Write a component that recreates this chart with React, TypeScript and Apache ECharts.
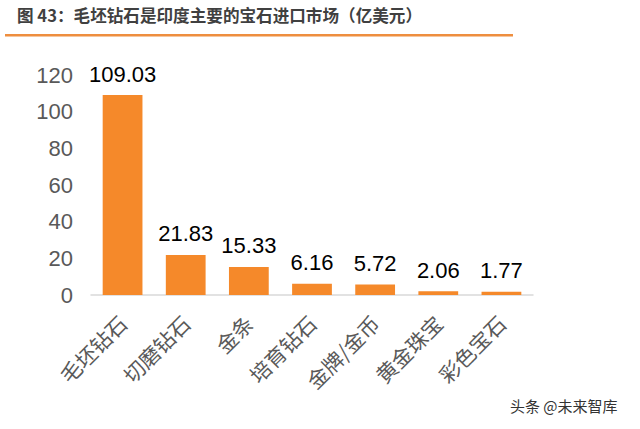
import React, { useEffect, useRef } from "react";
import * as echarts from "echarts";

const categories = ["毛坯钻石", "切磨钻石", "金条", "培育钻石", "金牌/金币", "黄金珠宝", "彩色宝石"];
const values = [109.03, 21.83, 15.33, 6.16, 5.72, 2.06, 1.77];
const yTicks = [0, 20, 40, 60, 80, 100, 120];
const titleText = "图 43：毛坯钻石是印度主要的宝石进口市场（亿美元）";
const watermark = "头条 @未来智库";

export default function App() {
  const ref = useRef<HTMLDivElement>(null);
  useEffect(() => {
    if (!ref.current) return;
    const chart = echarts.init(ref.current, null, { renderer: "svg" });
    chart.setOption({
      animation: false,
      backgroundColor: "#ffffff",
      grid: { left: 91, right: 107, top: 75, bottom: 134 },
      graphic: [
        {
          type: "text",
          left: 17,
          top: 7,
          style: {
            text: titleText,
            font: "bold 16.6px 'Noto Sans CJK SC', sans-serif",
            fill: "#404040",
          },
        },
        {
          type: "rect",
          shape: { x: 5, y: 34, width: 508, height: 2.5 },
          style: { fill: "#EE8E3F" },
        },
        {
          type: "text",
          left: 510,
          top: 398,
          style: {
            text: watermark,
            font: "15px 'Noto Sans CJK SC', sans-serif",
            fill: "#333333",
          },
        },
      ],
      xAxis: {
        type: "category",
        data: categories,
        axisLine: { show: true, lineStyle: { color: "#D9D9D9", width: 1.5 } },
        axisTick: { show: false },
        axisLabel: {
          rotate: 45,
          interval: 0,
          margin: 24,
          color: "#595959",
          fontSize: 21,
          fontFamily: "'Noto Sans CJK SC', sans-serif",
        },
      },
      yAxis: {
        type: "value",
        min: 0,
        max: 120,
        interval: 20,
        splitLine: { show: false },
        axisLine: { show: false },
        axisTick: { show: false },
        axisLabel: {
          color: "#595959",
          fontSize: 22,
          margin: 18,
          fontFamily: "'Liberation Sans', Arial, sans-serif",
          customValues: yTicks,
        },
      },
      series: [
        {
          type: "bar",
          data: values,
          barCategoryGap: "37%",
          itemStyle: { color: "#F5892A" },
          label: {
            show: true,
            position: "top",
            distance: 10,
            color: "#000000",
            fontSize: 22,
            fontFamily: "'Liberation Sans', Arial, sans-serif",
            formatter: (p: any) => p.value.toFixed(2),
          },
        },
      ],
    });
    return () => chart.dispose();
  }, []);
  return <div ref={ref} style={{ width: 640, height: 429, position: "fixed", left: 0, top: 0 }} />;
}
